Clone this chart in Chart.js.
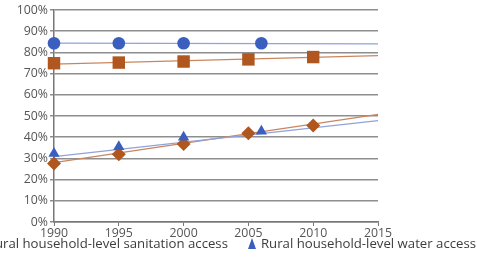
<!DOCTYPE html>
<html>
<head>
<meta charset="utf-8">
<script src="https://cdn.jsdelivr.net/npm/chart.js@4.4.1/dist/chart.umd.min.js"></script>
<style>
  html, body { margin:0; padding:0; background:#fff; overflow:hidden; }
  #wrap { position:relative; width:477px; height:274px; overflow:hidden; }
  canvas { position:absolute; left:0; top:0; }
  #legend { position:absolute; right:1px; top:234px; white-space:nowrap; display:flex; gap:20px;
            font-family:"Open Sans", "Noto Sans", sans-serif; font-size:13.2px; color:#3c3c3c; }
  .item { display:flex; align-items:center; gap:5px; }
  .mk { display:inline-block; }
</style>
</head>
<body>
<div id="wrap">
  <canvas id="c" width="477" height="274"></canvas>
  <div id="legend"></div>
</div>
<script>
// ---- data ----
const yearTicks = [1990, 1995, 2000, 2005, 2010, 2015];
const urbanWaterYears = [1990, 1995, 2000, 2006];
const urbanWaterValues = [84.3, 84.3, 84.3, 84.3];
const urbanSanYears = [1990, 1995, 2000, 2005, 2010];
const urbanSanValues = [74.9, 75.2, 75.7, 76.7, 77.8];
const ruralWaterYears = [1990, 1995, 2000, 2006];
const ruralWaterValues = [32.3, 35.5, 40.0, 42.8];
const ruralSanYears = [1990, 1995, 2000, 2005, 2010];
const ruralSanValues = [27.6, 32.0, 36.8, 41.9, 45.5];
// trend lines (read at 1990 and 2015)
const trendYears = [1990, 2015];
const urbanWaterTrend = [84.4, 84.0];
const urbanSanTrend = [74.5, 78.5];
const ruralWaterTrend = [30.8, 47.8];
const ruralSanTrend = [28.0, 50.8];
const legendLabels = ["Rural household-level sanitation access", "Rural household-level water access"];

const pts = (xs, ys) => xs.map((x, i) => ({x, y: ys[i]}));
const BLUE = '#3b5fbf', BROWN = '#b0561f';
const BLUE_LINE = '#8fa3d9', BROWN_LINE = '#c9865e';

const trend = (data, color) => ({ type:'line', data, borderColor: color, borderWidth: 1.3, pointRadius: 0, fill:false, order: 2, clip:false });
const marks = (data, color, style, r) => ({ type:'scatter', data, backgroundColor: color, borderColor: color, borderWidth: 0, pointStyle: style, pointRadius: r, order: 1, clip:false });

new Chart(document.getElementById('c'), {
  data: {
    datasets: [
      trend(pts(trendYears, urbanWaterTrend), BLUE_LINE),
      trend(pts(trendYears, urbanSanTrend), BROWN_LINE),
      trend(pts(trendYears, ruralWaterTrend), BLUE_LINE),
      trend(pts(trendYears, ruralSanTrend), BROWN_LINE),
      marks(pts(urbanWaterYears, urbanWaterValues), BLUE, 'circle', 6.3),
      marks(pts(urbanSanYears, urbanSanValues), BROWN, 'rect', 8.8),
      marks(pts(ruralWaterYears, ruralWaterValues), BLUE, 'triangle', 6.5),
      marks(pts(ruralSanYears, ruralSanValues), BROWN, 'rectRot', 7)
    ]
  },
  options: {
    responsive:false, animation:false, devicePixelRatio:1,
    layout: { padding: { left:0, top:10, right:99, bottom:30 } },
    plugins: { legend:{display:false}, tooltip:{enabled:false} },
    scales: {
      x: {
        type:'linear', min:1990, max:2015,
        afterBuildTicks: s => { s.ticks = yearTicks.map(v => ({value:v})); },
        afterFit: s => { s.height = 22; },
        grid: { drawOnChartArea:false, drawTicks:true, tickLength:4, color:'#777' },
        border: { color:'#777', width:1.5 },
        ticks: { callback: v => String(v), color:'#555', font:{ family:'"Open Sans", sans-serif', size:12.3 }, padding:0, maxRotation:0 }
      },
      y: {
        min:0, max:100,
        ticks: { stepSize:10, callback: v => v + '%', color:'#555', font:{ family:'"Open Sans", sans-serif', size:12.3 }, padding:2 },
        afterFit: s => { s.width = 54; },
        grid: { color:'#8e8e8e', lineWidth:1.5, tickLength:4 },
        border: { color:'#777', width:1.5 }
      }
    }
  }
});

// legend (HTML, right-aligned so the first entry runs off the left edge like the reference)
function markerSvg(kind){
  if (kind === 'triangle') return '<svg class="mk" width="8" height="11" viewBox="0 0 8 11"><path d="M4 0 L8 11 L0 11 Z" fill="'+BLUE+'"/></svg>';
  return '<svg class="mk" width="11" height="11" viewBox="0 0 11 11"><path d="M5.5 0 L11 5.5 L5.5 11 L0 5.5 Z" fill="'+BROWN+'"/></svg>';
}
const lg = document.getElementById('legend');
lg.innerHTML = '<span class="item">' + markerSvg('diamond') + '<span>' + legendLabels[0] + '</span></span>' +
               '<span class="item">' + markerSvg('triangle') + '<span>' + legendLabels[1] + '</span></span>';
</script>
</body>
</html>
